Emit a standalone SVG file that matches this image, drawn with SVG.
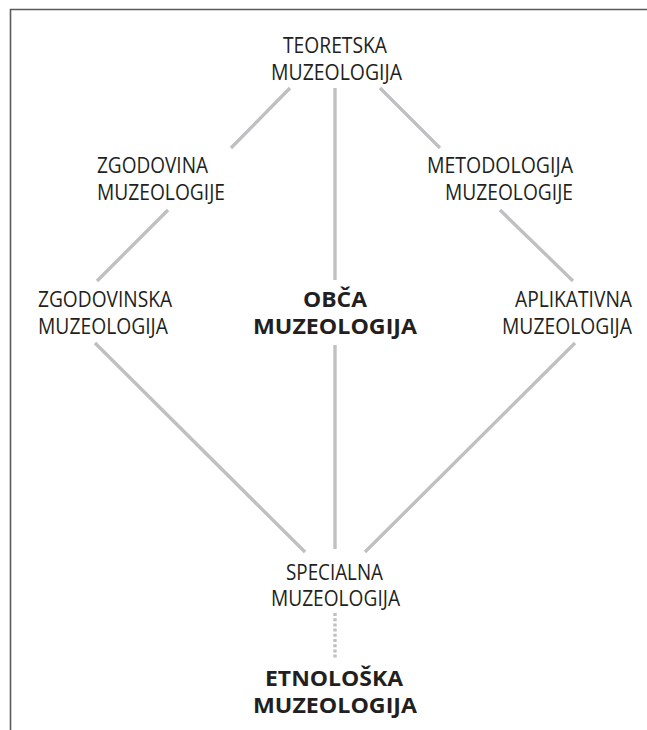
<svg xmlns="http://www.w3.org/2000/svg" width="647" height="730" viewBox="0 0 647 730">
  <style>
    .t { font-family: "Open Sans", "Noto Sans", "Liberation Sans", sans-serif; font-size: 21px; fill: #231f20; }
    .b { font-family: "Open Sans", "Noto Sans", "Liberation Sans", sans-serif; font-size: 21px; font-weight: bold; fill: #231f20; }
    .c { stroke: #bfc0c2; stroke-width: 3.4; fill: none; }
    .d { stroke: #bfc0c2; stroke-width: 3.4; fill: none; stroke-dasharray: 3 2.2; }
  </style>
  <rect width="647" height="730" fill="#ffffff"/>
  <g id="frame">
    <path d="M10.5 730 V9.5 H647" fill="none" stroke="#5a5a5a" stroke-width="1.6"/>
  </g>
  <g id="connectors">
    <line class="c" x1="290" y1="88" x2="231" y2="148"/>
    <line class="c" x1="335" y1="88" x2="335" y2="280"/>
    <line class="c" x1="380" y1="88" x2="440" y2="148"/>
    <line class="c" x1="168" y1="210" x2="97" y2="281"/>
    <line class="c" x1="500" y1="210" x2="573" y2="281"/>
    <line class="c" x1="95" y1="343" x2="305" y2="552"/>
    <line class="c" x1="335" y1="345" x2="335" y2="549"/>
    <line class="c" x1="575" y1="343" x2="365" y2="552"/>
    <line class="d" x1="335" y1="613" x2="335" y2="659"/>
  </g>
  <g id="teoretska">
    <text class="t" x="283" y="53" textLength="104" lengthAdjust="spacingAndGlyphs">TEORETSKA</text>
    <text class="t" x="271" y="80" textLength="131" lengthAdjust="spacingAndGlyphs">MUZEOLOGIJA</text>
  </g>
  <g id="zgodovina">
    <text class="t" x="97" y="173" textLength="111" lengthAdjust="spacingAndGlyphs">ZGODOVINA</text>
    <text class="t" x="97" y="200" textLength="128" lengthAdjust="spacingAndGlyphs">MUZEOLOGIJE</text>
  </g>
  <g id="metodologija">
    <text class="t" x="427" y="173" textLength="146" lengthAdjust="spacingAndGlyphs">METODOLOGIJA</text>
    <text class="t" x="445" y="200" textLength="128" lengthAdjust="spacingAndGlyphs">MUZEOLOGIJE</text>
  </g>
  <g id="zgodovinska">
    <text class="t" x="38" y="307" textLength="134" lengthAdjust="spacingAndGlyphs">ZGODOVINSKA</text>
    <text class="t" x="38" y="334" textLength="130" lengthAdjust="spacingAndGlyphs">MUZEOLOGIJA</text>
  </g>
  <g id="obca">
    <text class="b" x="303" y="307" textLength="64" lengthAdjust="spacingAndGlyphs">OBČA</text>
    <text class="b" x="253" y="334" textLength="164" lengthAdjust="spacingAndGlyphs">MUZEOLOGIJA</text>
  </g>
  <g id="aplikativna">
    <text class="t" x="515" y="307" textLength="117" lengthAdjust="spacingAndGlyphs">APLIKATIVNA</text>
    <text class="t" x="502" y="334" textLength="130" lengthAdjust="spacingAndGlyphs">MUZEOLOGIJA</text>
  </g>
  <g id="specialna">
    <text class="t" x="286" y="580" textLength="97" lengthAdjust="spacingAndGlyphs">SPECIALNA</text>
    <text class="t" x="271" y="606" textLength="129" lengthAdjust="spacingAndGlyphs">MUZEOLOGIJA</text>
  </g>
  <g id="etnoloska">
    <text class="b" x="265" y="686" textLength="138" lengthAdjust="spacingAndGlyphs">ETNOLOŠKA</text>
    <text class="b" x="253" y="713" textLength="164" lengthAdjust="spacingAndGlyphs">MUZEOLOGIJA</text>
  </g>
</svg>
